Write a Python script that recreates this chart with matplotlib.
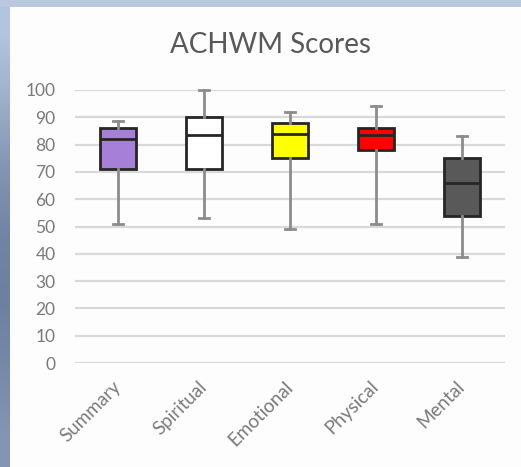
import numpy as np
import matplotlib
matplotlib.use("Agg")
import matplotlib.pyplot as plt
from matplotlib.colors import LinearSegmentedColormap

# ACHWM domain score distributions
categories = ["Summary", "Spiritual", "Emotional", "Physical", "Mental"]
whisker_low = [51, 53, 49, 51, 39]
q1 = [71, 71, 75, 78, 54]
median = [82, 83.5, 84, 83.5, 66]
q3 = [86, 90, 88, 86, 75]
whisker_high = [88.5, 100, 92, 94, 83]
box_colors = ["#a67fd8", "#ffffff", "#ffff00", "#ff0000", "#595959"]
y_ticks = list(range(0, 101, 10))

plt.rcParams["font.family"] = ["Lato", "DejaVu Sans"]

fig = plt.figure(figsize=(5.21, 4.67), dpi=100)
fig.patch.set_facecolor("#fdfdfd")

# slide-style frame: light strip across the top, shaded strip down the left
bg = fig.add_axes([0, 0, 1, 1], zorder=-10)
bg.set_xlim(0, 521)
bg.set_ylim(467, 0)
bg.axis("off")
bg.add_patch(plt.Rectangle((0, 0), 521, 7, color="#b9c8de", lw=0))
grad = np.array([[0.0], [0.25], [0.55], [0.75], [0.8], [0.7], [0.55]])
cmap = LinearSegmentedColormap.from_list("frame", ["#b3c4de", "#5d6f90"])
bg.imshow(grad, cmap=cmap, extent=(0, 10, 467, 0), aspect="auto",
          interpolation="bilinear", vmin=0, vmax=1)

ax = fig.add_axes([75 / 521, 104 / 467, 430 / 521, 273 / 467])
ax.set_facecolor("none")

stats = []
for i, name in enumerate(categories):
    stats.append(dict(label=name, whislo=whisker_low[i], q1=q1[i], med=median[i],
                      q3=q3[i], whishi=whisker_high[i], fliers=[]))

positions = np.arange(len(categories))
bp = ax.bxp(stats, positions=positions, widths=0.42, patch_artist=True,
            showfliers=False,
            boxprops=dict(edgecolor="#262626", linewidth=2.0),
            medianprops=dict(color="#262626", linewidth=2.0),
            whiskerprops=dict(color="#8c8c8c", linewidth=2.0),
            capprops=dict(color="#8c8c8c", linewidth=2.0),
            capwidths=0.12)
for patch, c in zip(bp["boxes"], box_colors):
    patch.set_facecolor(c)
for group in bp.values():
    for art in group:
        art.set_clip_on(False)
        art.set_zorder(3)

ax.set_xlim(-0.5, len(categories) - 0.5)
ax.set_ylim(0, 100)
ax.set_yticks(y_ticks)
ax.yaxis.grid(True, color="#d9d9d9", linewidth=1.6)
ax.set_axisbelow(True)
for s in ax.spines.values():
    s.set_visible(False)
ax.tick_params(axis="both", length=0, colors="#7a7a7a")
ax.tick_params(axis="y", pad=14, labelsize=12.5)
ax.set_xticks(positions)
ax.set_xticklabels(categories, rotation=45, ha="right", va="center",
                   rotation_mode="anchor", fontsize=13.5)
ax.tick_params(axis="x", pad=15)

fig.text(270 / 521, 1 - 45 / 467, "ACHWM Scores", ha="center", va="center",
         fontsize=20, color="#595959")

fig.savefig("out.png", dpi=100, facecolor=fig.get_facecolor())
